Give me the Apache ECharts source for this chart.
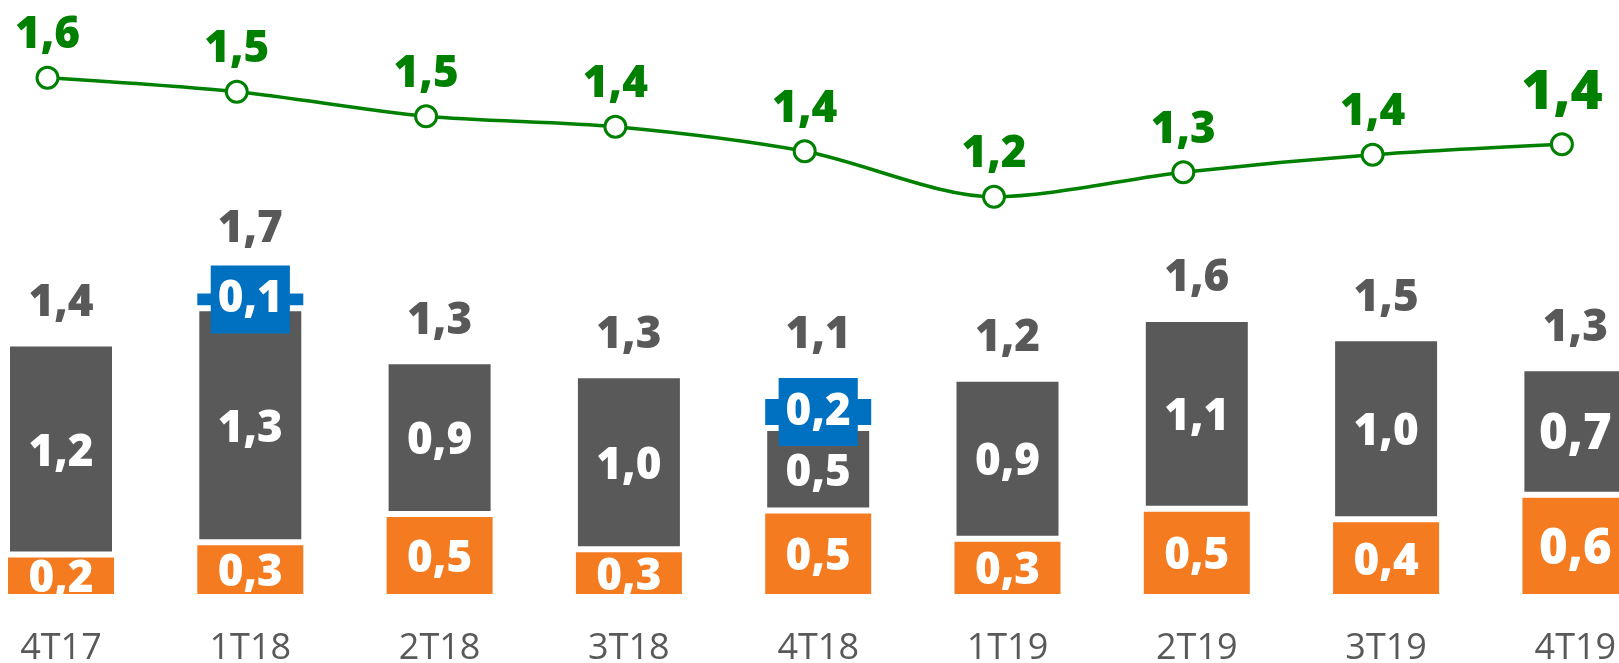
<!DOCTYPE html>
<html>
<head>
<meta charset="utf-8">
<script src="https://cdn.jsdelivr.net/npm/echarts@6/dist/echarts.min.js"></script>
<style>
html,body{margin:0;padding:0;background:#fff;}
#chart{width:1619px;height:663px;}
</style>
</head>
<body>
<div id="chart"></div>
<script>
const categories = ['4T17','1T18','2T18','3T18','4T18','1T19','2T19','3T19','4T19'];
const orangeValues = [0.23, 0.30, 0.46, 0.26, 0.48, 0.32, 0.49, 0.43, 0.57];
const grayValues   = [1.21, 1.34, 0.88, 1.00, 0.48, 0.92, 1.09, 1.04, 0.73];
const blueValues   = [null, 0.09, null, null, 0.17, null, null, null, null];
const lineValues   = [1.58, 1.54, 1.47, 1.44, 1.37, 1.24, 1.31, 1.36, 1.39];

const totals = categories.map((c, i) => (orangeValues[i] || 0) + (grayValues[i] || 0) + (blueValues[i] || 0));

const fmt = v => (Math.round(v * 10) / 10).toFixed(1).replace('.', ',');
const FONT = "'Open Sans', 'Noto Sans', sans-serif";
const ORANGE = '#F47B20', GRAY = '#595959', BLUE = '#0070C0', GREEN = '#008000';
const LAST = categories.length - 1;
const W = 800;

const chart = echarts.init(document.getElementById('chart'));
const innerLabel = {
  show: true, position: 'inside', color: '#fff', fontFamily: FONT, fontWeight: W,
  fontSize: 44, lineHeight: 44, offset: [0, 4], formatter: p => fmt(p.value)
};
const big = (v, i) => i === LAST ? { value: v, label: { fontSize: 49, lineHeight: 49 } } : v;

chart.setOption({
  animation: false,
  backgroundColor: '#ffffff',
  grid: [
    { left: -33.65, width: 1703.7, top: 68, height: 528, outerBoundsMode: 'none', containLabel: false },
    { left: -47.15, width: 1703.7, top: -69.25, height: 350, outerBoundsMode: 'none', containLabel: false }
  ],
  xAxis: [
    {
      type: 'category', data: categories, gridIndex: 0,
      axisLine: { show: false }, axisTick: { show: false }, splitLine: { show: false },
      axisLabel: { interval: 0, margin: 35, color: GRAY, fontFamily: FONT, fontSize: 36, lineHeight: 36 }
    },
    { type: 'category', data: categories, gridIndex: 1, show: false }
  ],
  yAxis: [
    { type: 'value', min: 0, max: 3, gridIndex: 0, show: false, splitLine: { show: false } },
    { type: 'value', min: 1, max: 2, gridIndex: 1, show: false, splitLine: { show: false } }
  ],
  series: [
    {
      type: 'bar', stack: 'a', barWidth: 110, xAxisIndex: 0, yAxisIndex: 0,
      data: orangeValues.map(big),
      itemStyle: { color: ORANGE, borderColor: '#fff', borderWidth: 2 },
      label: innerLabel
    },
    {
      type: 'bar', stack: 'a', barWidth: 110, xAxisIndex: 0, yAxisIndex: 0,
      data: grayValues.map(big),
      itemStyle: { color: GRAY, borderColor: '#fff', borderWidth: 4 },
      label: innerLabel
    },
    {
      type: 'bar', stack: 'a', barWidth: 110, xAxisIndex: 0, yAxisIndex: 0,
      data: blueValues,
      itemStyle: { color: BLUE, borderColor: '#fff', borderWidth: 2 },
      label: Object.assign({}, innerLabel, { backgroundColor: BLUE, padding: [12, 7], offset: [0, 0] })
    },
    {
      type: 'scatter', xAxisIndex: 0, yAxisIndex: 0, symbolSize: 0, silent: true,
      itemStyle: { opacity: 1 },
      data: totals.map((t, i) => ({
        value: t,
        label: { distance: blueValues[i] ? 40 : 17 }
      })),
      label: {
        show: true, position: 'top', color: GRAY, fontFamily: FONT, fontWeight: W,
        fontSize: 44, lineHeight: 44, opacity: 1, formatter: p => fmt(p.value)
      }
    },
    {
      type: 'line', xAxisIndex: 1, yAxisIndex: 1, smooth: 0.3,
      data: lineValues.map((v, i) => i === LAST ? { value: v, label: { fontSize: 55, lineHeight: 55, distance: 11 } } : v),
      symbol: 'circle', symbolSize: 21,
      lineStyle: { color: GREEN, width: 3.5 },
      itemStyle: { color: '#fff', borderColor: GREEN, borderWidth: 3 },
      label: {
        show: true, position: 'top', distance: 8, color: GREEN, fontFamily: FONT, fontWeight: W,
        fontSize: 44, lineHeight: 44, formatter: p => fmt(p.value)
      }
    }
  ]
});
</script>
</body>
</html>
